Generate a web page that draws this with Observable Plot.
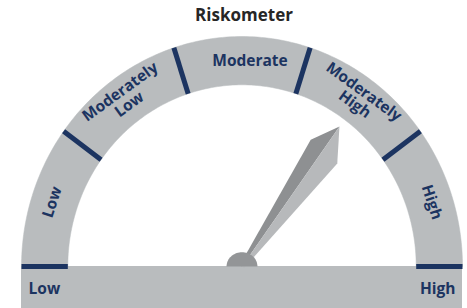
<!DOCTYPE html>
<html><head><meta charset="utf-8">
<script src="https://cdn.jsdelivr.net/npm/d3@7"></script>
<script src="https://cdn.jsdelivr.net/npm/@observablehq/plot@0.6"></script>
<style>
body{margin:0;background:#fff;}
#title{width:467px;height:28px;box-sizing:border-box;padding-top:5px;padding-left:21px;text-align:center;font:bold 17px "Open Sans",sans-serif;color:#262626;line-height:20px;}
#chart svg{display:block;}
</style>
</head><body>
<div id="title"></div>
<div id="chart"></div>
<script>
const title = "Riskometer";
const categories = ["Low", "Moderately\nLow", "Moderate", "Moderately\nHigh", "High"];
const endLabels = ["Low", "High"];
const needleValue = 3.5; // position on the 0..5 segment scale

const navy = "#1c3461", band = "#b9bcbe";
const W = 467, H = 280;
const cx = 241.5, cy = 238, rxPx = 220.5, ryPx = 230;
const inner = 0.79, outer = 1.0;
const n = categories.length;
const rad = d => d * Math.PI / 180;
const pol = (r, phi) => ({x: r * Math.cos(rad(phi)), y: r * Math.sin(rad(phi))});

// band polygon
const bandPts = [];
for (let a = 180; a >= 0; a -= 1) bandPts.push(pol(outer, a));
for (let a = 0; a <= 180; a += 1) bandPts.push(pol(inner, a));

// separators
const seps = d3.range(0, n + 1).map(i => {
  const phi = 180 - i * 180 / n;
  const a = pol(inner, phi), b = pol(outer, phi);
  return {x1: a.x, y1: a.y, x2: b.x, y2: b.y};
});

// labels
const labels = categories.map((c, i) => {
  const theta = (i + 0.5) * 180 / n;
  const p = pol(0.905, 180 - theta);
  return {text: c, x: p.x, y: p.y, rotate: theta - 90, i};
});

// needle
const nPhi = 180 - needleValue * 180 / n;
const tip = pol(0.752, nPhi);
const lc = pol(0.633, nPhi + 6.5);
const rc = pol(0.622, nPhi - 8);
const bl = pol(0.012, nPhi + 90), br = pol(0.012, nPhi - 90);
const needleDark = [bl, lc, tip, {x: 0, y: 0}];
const needleLight = [{x: 0, y: 0}, tip, rc, br];

// hub
const hub = [];
for (let a = 0; a <= 180; a += 5) hub.push({x: 0.07 * Math.cos(rad(a)), y: 0.062 * Math.sin(rad(a))});

const xDom = [-cx / rxPx, (W - cx) / rxPx];
const yDom = [-(H - cy) / ryPx, cy / ryPx];

document.getElementById("title").textContent = title;

const txt = {fill: navy, fontSize: 15.5, fontWeight: "bold", fontFamily: "Open Sans"};
const chart = Plot.plot({
  width: W, height: H,
  margin: 0,
  x: {domain: xDom, axis: null},
  y: {domain: yDom, axis: null},
  marks: [
    Plot.rect([{}], {x1: -outer, x2: outer, y1: yDom[0], y2: 0, fill: band}),
    Plot.line(bandPts, {x: "x", y: "y", fill: band, stroke: band, strokeWidth: 0.5}),
    Plot.link(seps, {x1: "x1", y1: "y1", x2: "x2", y2: "y2", stroke: navy, strokeWidth: 5}),
    Plot.text(labels.filter(d => d.i !== 2), {x: "x", y: "y", text: "text", rotate: "rotate", lineHeight: 1.0, ...txt}),
    Plot.text(labels.filter(d => d.i === 2), {x: "x", y: "y", text: "text", dx: 8, dy: 3, ...txt}),
    Plot.text([endLabels[0]], {x: -0.968, y: -0.1, text: d => d, textAnchor: "start", ...txt}),
    Plot.text([endLabels[1]], {x: 0.968, y: -0.1, text: d => d, textAnchor: "end", ...txt}),
    Plot.line(needleDark, {x: "x", y: "y", fill: "#8e9092", stroke: "none"}),
    Plot.line(needleLight, {x: "x", y: "y", fill: "#b7b9bb", stroke: "none"}),
    Plot.line(hub, {x: "x", y: "y", fill: "#939597", stroke: "none"})
  ]
});
document.getElementById("chart").appendChild(chart);
</script>
</body></html>
